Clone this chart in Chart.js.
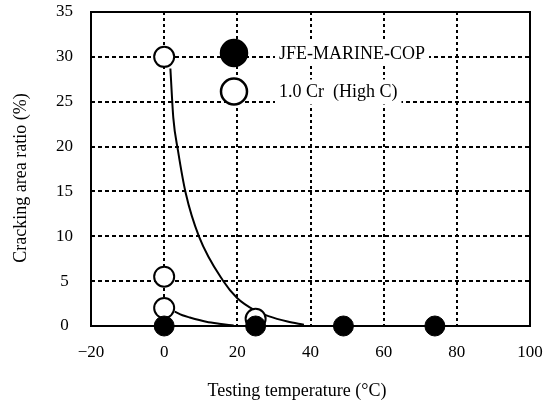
<!DOCTYPE html>
<html>
<head>
<meta charset="utf-8">
<script src="https://cdn.jsdelivr.net/npm/chart.js@4"></script>
<style>
html,body{margin:0;padding:0;background:#fff;}
#wrap{width:547px;height:407px;position:relative;}
</style>
</head>
<body>
<div id="wrap"><canvas id="c"></canvas></div>
<script>
Chart.defaults.font.family='"Liberation Serif","Times New Roman",serif';
Chart.defaults.color="#000";

// measured points
const jfeTemp=[0,25,49,74];
const jfeRatio=[0,0,0,0];
const crTemp=[0,0,0,25];
const crRatio=[30,5.5,2,0.8];
// hand-drawn trend curves
const curveATemp=[1.7,2.5,3.8,5.9,9.5,16,20,25,28.5,33.7,38.2];
const curveARatio=[28.7,23.2,19.5,14.8,10,5.1,3.1,1.7,1.1,0.5,0.15];
const curveBTemp=[2.9,5,7,11.5,15,19];
const curveBRatio=[1.6,1.2,0.95,0.48,0.25,0.05];

const xTicks=[-20,0,20,40,60,80,100];
const yTicks=[0,5,10,15,20,25,30,35];
const legendNames=["JFE-MARINE-COP","1.0 Cr  (High C)"];

const pts=(xs,ys)=>xs.map((x,i)=>({x,y:ys[i]}));

// frame round the plot area
const frame={id:"frame",beforeDatasetsDraw(ch){
  const a=ch.chartArea,c=ch.ctx;
  c.save();c.lineWidth=2;c.strokeStyle="#000";c.setLineDash([]);
  c.strokeRect(a.left,a.top,a.right-a.left,a.bottom-a.top);
  c.restore();
}};
// legend sits inside the plot
const inLegend={id:"inLegend",afterDatasetsDraw(ch){
  const a=ch.chartArea,c=ch.ctx;
  c.save();
  c.font='18px "Liberation Serif","Times New Roman",serif';
  c.textBaseline="middle";
  const rows=[{y:a.top+41,fill:"#000"},{y:a.top+79.5,fill:"#fff"}];
  rows.forEach((r,i)=>{
    const tx=a.left+188,w=c.measureText(legendNames[i]).width;
    c.fillStyle="#fff";c.fillRect(tx-4,r.y-12,w+8,25);
    c.beginPath();c.arc(a.left+143,r.y,13,0,Math.PI*2);
    c.fillStyle=r.fill;c.fill();c.lineWidth=2.5;c.strokeStyle="#000";c.stroke();
    c.fillStyle="#000";c.fillText(legendNames[i],tx,r.y+1);
  });
  c.restore();
}};

const edge=(v,lo,hi)=>v===lo||v===hi;

new Chart(document.getElementById("c"),{type:"scatter",
  data:{datasets:[
    {label:legendNames[0],data:pts(jfeTemp,jfeRatio),pointRadius:10,pointHoverRadius:10,
      backgroundColor:"#000",borderColor:"#000",borderWidth:1,clip:false},
    {label:legendNames[1],data:pts(crTemp,crRatio),pointRadius:10,pointHoverRadius:10,
      backgroundColor:"#fff",borderColor:"#000",borderWidth:2,clip:false},
    {label:"trend A",data:pts(curveATemp,curveARatio),showLine:true,pointRadius:0,
      borderColor:"#000",borderWidth:2,cubicInterpolationMode:"monotone",clip:false},
    {label:"trend B",data:pts(curveBTemp,curveBRatio),showLine:true,pointRadius:0,
      borderColor:"#000",borderWidth:2,cubicInterpolationMode:"monotone",clip:false},
  ]},
  options:{responsive:true,maintainAspectRatio:false,animation:false,
    layout:{padding:{top:10,right:17,left:0,bottom:0}},
    scales:{
      x:{type:"linear",min:-20,max:100,
        afterBuildTicks:s=>{s.ticks=xTicks.map(v=>({value:v}));},
        afterFit:s=>{s.height=81;s.paddingLeft=0;s.paddingRight=0;},
        ticks:{padding:16,font:{size:17},color:"#000",
          callback:v=>v<0?"\u2212"+Math.abs(v):String(v)},
        grid:{drawTicks:false,lineWidth:2,color:c=>edge(c.tick.value,-20,100)?"rgba(0,0,0,0)":"#000"},
        border:{display:false,dash:[3,3]},
        title:{display:true,text:"Testing temperature (\u00b0C)      ",font:{size:18},color:"#000",padding:{top:0,bottom:5}}},
      y:{type:"linear",min:0,max:35,
        afterBuildTicks:s=>{s.ticks=yTicks.map(v=>({value:v}));},
        afterFit:s=>{s.width=91;s.paddingTop=0;s.paddingBottom=0;},
        ticks:{padding:18,crossAlign:"center",font:{size:17},color:"#000"},
        grid:{drawTicks:false,lineWidth:2,color:c=>edge(c.tick.value,0,35)?"rgba(0,0,0,0)":"#000"},
        border:{display:false,dash:[4,3]},
        title:{display:true,text:"Cracking area ratio (%)    ",font:{size:18},color:"#000",padding:{top:10,bottom:0}}},
    },
    plugins:{legend:{display:false},tooltip:{enabled:false}}},
  plugins:[frame,inLegend]});
</script>
</body>
</html>
